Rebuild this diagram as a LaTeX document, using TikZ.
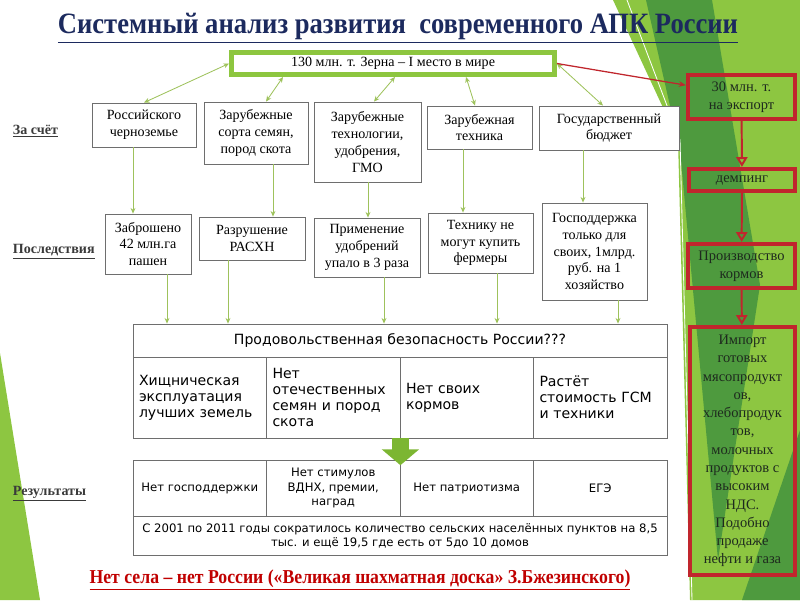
\documentclass[tikz,border=0pt]{standalone}
\usepackage{fontspec}
\setmainfont{Liberation Serif}
\newfontfamily\headfont{Liberation Serif}[FakeStretch=0.9,Ligatures=TeX]
\newfontfamily\cellfont{DejaVu Sans}
\usetikzlibrary{arrows.meta}
\definecolor{navy}{HTML}{1C2A5E}
\definecolor{boxgray}{HTML}{6E6E6E}
\definecolor{labelgray}{HTML}{3A3A3A}
\definecolor{topgreen}{HTML}{8DC63F}
\definecolor{arrgreen}{HTML}{9EC25C}
\definecolor{blockgreen}{HTML}{7CB632}
\definecolor{redline}{HTML}{C0262D}
\definecolor{redtext}{HTML}{C00000}
\definecolor{darktext}{HTML}{1E2A1E}
\definecolor{bglight}{HTML}{8DC641}
\definecolor{bgdark}{HTML}{4E9A3E}
\newcommand\pxu{0.025cm}

\begin{document}
\begin{tikzpicture}[x=0.025cm,y=-0.025cm,
    box/.style={draw=boxgray,fill=white,line width=0.6pt,align=center,inner sep=1pt,
      font=\fontsize{10}{12}\selectfont},
    cell/.style={draw=boxgray,fill=white,line width=0.6pt,inner sep=0pt,
      font=\cellfont\fontsize{10}{11.5}\selectfont},
    smallcell/.style={cell,align=center,font=\cellfont\fontsize{8.3}{10}\selectfont},
    redbox/.style={draw=redline,line width=3pt,align=center,text=darktext,inner sep=1pt,
      font=\fontsize{10.3}{13}\selectfont},
    garrow/.style={draw=arrgreen,line width=0.6pt,-{Stealth[length=4pt,width=3.5pt]}},
    gboth/.style={draw=arrgreen,line width=0.6pt,
      {Stealth[length=4pt,width=3.5pt]}-{Stealth[length=4pt,width=3.5pt]}},
    rarrow/.style={draw=redline,line width=1.4pt,-{Triangle[open,length=7pt,width=8pt]}},
    side/.style={anchor=west,text=labelgray,font=\bfseries\fontsize{10}{12}\selectfont}]
\useasboundingbox (0,0) rectangle (800,600);

% background of the slide
\fill[bglight] (613,0) -- (800,0) -- (800,600) -- (690,600) -- (678,140) -- cycle;
\fill[bgdark] (646,0) -- (712,0) -- (760,285) -- (718,560) -- (680,150) -- cycle;
\fill[bgdark] (800,430) -- (800,600) -- (742,600) -- cycle;
\fill[bglight] (0,353) -- (40,600) -- (0,600) -- cycle;
\draw[white,line width=0.6pt] (627,0) -- (680,140) -- (692,600);

\node[text=navy,font=\headfont\bfseries\fontsize{21}{24}\selectfont] (title) at (398,28)
  {\underline{Системный анализ развития\ \ современного АПК России}};

\node[draw=topgreen,line width=3.5pt,fill=white,minimum width=323*\pxu,minimum height=22*\pxu,
  inner sep=1pt,font=\fontsize{10}{12}\selectfont] (top) at (393,63.5)
  {130 млн. т. Зерна – I место в мире};

\node[side] (lab1) at (8,131) {\underline{За счёт}};
\node[side] (lab2) at (8,252) {\underline{Последствия}};
\node[side] (lab3) at (8,494) {\underline{Результаты}};

\node[box,minimum width=104*\pxu,minimum height=44*\pxu] (b1) at (144,125) {Российского\\черноземье};
\node[box,minimum width=104*\pxu,minimum height=62*\pxu] (b2) at (256,133) {Зарубежные\\сорта семян,\\пород скота};
\node[box,minimum width=107*\pxu,minimum height=80*\pxu] (b3) at (367.5,142) {Зарубежные\\технологии,\\удобрения,\\ГМО};
\node[box,minimum width=105*\pxu,minimum height=43*\pxu] (b4) at (479.5,127.5) {Зарубежная\\техника};
\node[box,minimum width=140*\pxu,minimum height=44*\pxu] (b5) at (609,128) {Государственный\\бюджет};

\node[box,minimum width=86*\pxu,minimum height=60*\pxu] (r1) at (148,244) {Заброшено\\42 млн.га\\пашен};
\node[box,minimum width=106*\pxu,minimum height=43*\pxu] (r2) at (252,238.5) {Разрушение\\РАСХН};
\node[box,minimum width=106*\pxu,minimum height=59*\pxu] (r3) at (367,247.5) {Применение\\удобрений\\упало в 3 раза};
\node[box,minimum width=105*\pxu,minimum height=60*\pxu] (r4) at (480.5,243) {Технику не\\могут купить\\фермеры};
\node[box,minimum width=105*\pxu,minimum height=97*\pxu] (r5) at (594.5,251.5) {Господдержка\\только для\\своих, 1млрд.\\руб. на 1\\хозяйство};

\node[cell,minimum width=534*\pxu,minimum height=33*\pxu] (head) at (400,340.5)
  {Продовольственная безопасность России???};
\foreach \i/\txt in {1/{Хищническая\\эксплуатация\\лучших земель},
    2/{Нет\\отечественных\\семян и пород\\скота},
    3/{Нет своих\\кормов},
    4/{Растёт\\стоимость ГСМ\\и техники}}
  \node[cell,align=left,text width=121.5*\pxu,inner xsep=6*\pxu,minimum height=81*\pxu]
    (f\i) at ({133+133.5*\i-66.75},397.5) {\txt};

\foreach \i/\txt in {1/{Нет господдержки},2/{Нет стимулов\\ВДНХ, премии,\\наград},
    3/{Нет патриотизма},4/{ЕГЭ}}
  \node[smallcell,minimum width=133.5*\pxu,minimum height=56*\pxu]
    (g\i) at ({133+133.5*\i-66.75},488) {\txt};
\node[smallcell,minimum width=534*\pxu,minimum height=39*\pxu] (gsum) at (400,535.5)
  {С 2001 по 2011 годы сократилось количество сельских населённых пунктов на 8,5\\
   тыс. и ещё 19,5 где есть от 5до 10 домов};

\draw[draw=blockgreen,line width=12pt,-{Triangle[length=11.3pt,width=26pt]}]
  (f2.south east) -- ([yshift=-4pt]g2.north east);

\node[redbox,minimum width=107*\pxu,minimum height=44*\pxu] (e1) at (741.5,97) {30 млн. т.\\на экспорт};
\node[redbox,minimum width=106*\pxu,minimum height=22*\pxu] (e2) at (742,180) {демпинг};
\node[redbox,minimum width=107*\pxu,minimum height=44*\pxu] (e3) at (741.5,266) {Производство\\кормов};
\node[redbox,minimum width=105*\pxu,minimum height=248*\pxu] (e4) at (742.5,451)
  {Импорт\\готовых\\мясопродукт\\ов,\\хлебопродук\\тов,\\молочных\\продуктов с\\высоким\\НДС.\\Подобно\\продаже\\нефти и газа};

\draw[gboth] (top.west) -- (b1.north);
\draw[gboth] (top.south -| 283,0) -- (b2.north -| 266,0);
\draw[gboth] (top.south -| 395,0) -- (b3.north -| 374,0);
\draw[gboth] (top.south -| 466,0) -- (b4.north -| 475,0);
\draw[gboth] (top.east) -- (b5.north -| 603,0);
\draw[draw=redline,line width=0.9pt,-{Stealth[length=5pt,width=4pt]}] (top.east) -- (e1.168);

\foreach \a/\b/\k in {b1/r1/133,b2/r2/273,b3/r3/368,b4/r4/463,b5/r5/583}
  \draw[garrow] (\a.south -| \k,0) -- (\b.north -| \k,0);
\foreach \b/\k in {r1/167,r2/228,r3/384,r4/497,r5/618}
  \draw[garrow] (\b.south -| \k,0) -- (head.north -| \k,0);

\draw[rarrow] (e1) -- (e2);
\draw[rarrow] (e2) -- (e3);
\draw[rarrow] (e3) -- (e4);

\node[text=redtext,font=\headfont\bfseries\fontsize{14}{16}\selectfont] (motto) at (360,580)
  {\underline{Нет села – нет России («Великая шахматная доска» З.Бжезинского)}};
\end{tikzpicture}
\end{document}
